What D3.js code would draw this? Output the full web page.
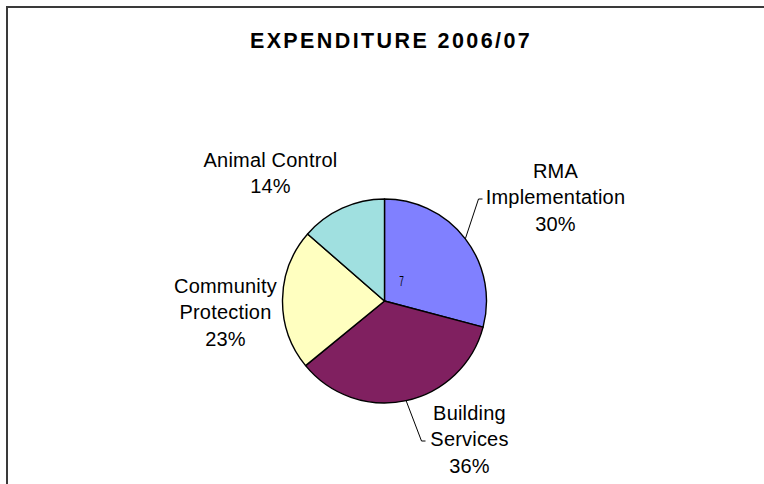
<!DOCTYPE html>
<html>
<head>
<meta charset="utf-8">
<script src="https://cdn.jsdelivr.net/npm/d3@7"></script>
<style>
  html, body { margin: 0; padding: 0; background: #fff; }
  svg { display: block; }
  text { font-family: "Liberation Sans", Arial, sans-serif; fill: #000; }
</style>
</head>
<body>
<svg id="chart" width="764" height="484"></svg>
<script>
// Expenditure shares, 2006/07 (percent)
const categories = ["RMA Implementation", "Building Services", "Community Protection", "Animal Control"];
const shares = [30, 36, 23, 14];
const labelLines = [["RMA", "Implementation"], ["Building", "Services"], ["Community", "Protection"], ["Animal Control"]];
const sliceColors = ["#8080FF", "#802060", "#FFFFC0", "#A0E0E0"];
const chartTitle = "EXPENDITURE 2006/07";

// Label placement relative to the pie centre: centre x, first baseline y, and
// an optional leader elbow point (dx, dy) with a short horizontal tail.
const labelLayout = [
  { dx: 171, dy: -123, leader: [94, -102] },
  { dx: 85,  dy: 119,  leader: [37, 140] },
  { dx: -159, dy: -8,  leader: null },
  { dx: -114, dy: -134, leader: null }
];

const W = 764, H = 484;
const cx = 384.5, cy = 301, R = 102;
const lineH = 26.3;

const svg = d3.select("#chart");

// frame (left and top edges visible)
svg.append("line").attr("x1", 7).attr("y1", 6).attr("x2", 7).attr("y2", H)
  .attr("stroke", "#3a3a3a").attr("stroke-width", 2);
svg.append("line").attr("x1", 6).attr("y1", 7).attr("x2", W).attr("y2", 7)
  .attr("stroke", "#3a3a3a").attr("stroke-width", 2);

// title
svg.append("text")
  .attr("x", 391).attr("y", 47.5)
  .attr("text-anchor", "middle")
  .style("font-size", "21.5px").style("font-weight", "bold")
  .style("letter-spacing", "2.4px")
  .text(chartTitle);

const data = categories.map((c, i) => ({ name: c, value: shares[i], i }));
const pie = d3.pie().sort(null).value(d => d.value);
const arcs = pie(data);
const arc = d3.arc().innerRadius(0).outerRadius(R);

const g = svg.append("g").attr("transform", `translate(${cx},${cy})`);

g.selectAll("path.slice")
  .data(arcs)
  .join("path")
  .attr("class", "slice")
  .attr("d", arc)
  .attr("fill", d => sliceColors[d.data.i])
  .attr("stroke", "#000")
  .attr("stroke-width", 1.4)
  .attr("stroke-linejoin", "round");

// small stray data-label glyph inside the first slice
g.append("text")
  .attr("x", 17).attr("y", -15)
  .attr("text-anchor", "middle")
  .attr("transform", "translate(17,-15) scale(0.55,1) translate(-17,15)")
  .style("font-size", "15px")
  .text("7");

// labels and leader lines
arcs.forEach(a => {
  const i = a.data.i;
  const L = labelLayout[i];
  const lines = labelLines[i].concat([a.data.value + "%"]);
  const t = g.append("text")
    .attr("text-anchor", "middle")
    .style("font-size", "20px")
    .style("letter-spacing", "0.2px");
  lines.forEach((s, k) => {
    t.append("tspan").attr("x", L.dx).attr("y", L.dy + k * lineH).text(s);
  });
  if (L.leader) {
    const mid = (a.startAngle + a.endAngle) / 2;
    const sx = R * Math.sin(mid), sy = -R * Math.cos(mid);
    const [ex, ey] = L.leader;
    g.append("polyline")
      .attr("points", `${sx},${sy} ${ex},${ey} ${ex + 4},${ey}`)
      .attr("fill", "none")
      .attr("stroke", "#000")
      .attr("stroke-width", 1);
  }
});
</script>
</body>
</html>
